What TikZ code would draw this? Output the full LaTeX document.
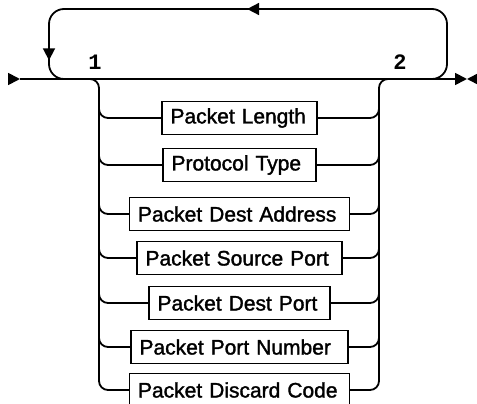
\documentclass[tikz,border=0pt]{standalone}
\usepackage{fontspec}
\setmainfont{Liberation Sans}
\setmonofont{Liberation Mono}
\newfontfamily\fieldfont[BoldFont=Liberation Sans, BoldFeatures={FakeBold=1.5}]{Liberation Sans}
\usetikzlibrary{arrows.meta, decorations.markings}

\begin{document}
\begin{tikzpicture}[
    x=1pt, y=-1pt,
    rail/.style={line width=1.8pt},
    field/.style={draw, line width=1.4pt, minimum height=33pt, inner xsep=8.5pt,
                  inner ysep=0pt, align=left, font=\fontsize{21}{24}\selectfont\fieldfont\bfseries},
    repeatno/.style={font=\fontsize{22}{24}\selectfont\ttfamily\bfseries},
    >={Triangle[length=12pt, width=12pt]}
  ]
    \useasboundingbox (0,0) rectangle (477,404);
    % Choice boxes
    \foreach \i/\yy/\tw/\txt in {1/118/138pt/Packet Length, 2/165/136pt/Protocol Type,
                                 3/214/203pt/Packet Dest Address, 4/258/188pt/Packet Source Port,
                                 5/303/164pt/Packet Dest Port, 6/347/200pt/Packet Port Number,
                                 7/390/203pt/Packet Discard Code}{
      \node[field, text width=\tw] (B\i) at (239.5,\yy) {\txt};
    }
    % Main line ends
    \coordinate (s0) at (8,79);
    \coordinate (s1) at (20,79);
    \coordinate (e1) at (467,79);
    \coordinate (e2) at (477,79);
    \coordinate (lin) at (85,79);
    \coordinate (rout) at (395,79);
    \coordinate (lpA) at (415,79);
    \coordinate (lpB) at (80,79);
    \draw[rail, ->] (s0) -- (s1);
    \draw[rail, ->] (s1) -- (e1);
    \draw[rail, ->] (e2) -- (e1);
    % Repeat loop
    \draw[rail, rounded corners=15pt,
          postaction={decorate, decoration={markings,
            mark=at position 289pt with {\arrow{>}},
            mark=at position 532pt with {\arrow{>}}}}]
      (lpA) -| (447,9) -| (49,79) -- (lpB);
    \node[repeatno] (n1) at (95,62) {1};
    \node[repeatno] (n2) at (400,62) {2};
    % Branches
    \draw[rail, rounded corners=9pt] (lin) -| (99,390) -- (B7.west);
    \draw[rail, rounded corners=9pt] (B7.east) -| (379,79) -- (rout);
    \foreach \i/\yy in {1/118, 2/165, 3/214, 4/258, 5/303, 6/347}{
      \draw[rail, rounded corners=9pt] (99,\yy-20) |- (B\i.west);
      \draw[rail, rounded corners=9pt] (B\i.east) -| (379,\yy-20);
    }
\end{tikzpicture}
\end{document}
